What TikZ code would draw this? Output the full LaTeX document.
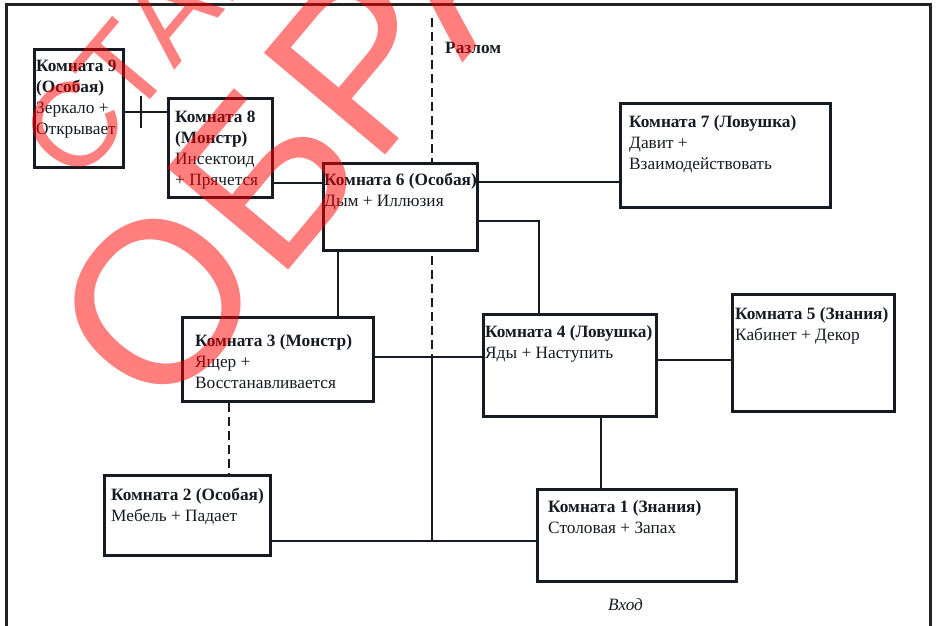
\documentclass[tikz,border=0pt]{standalone}
\usepackage{fontspec}
\setmainfont{Liberation Serif}
\newfontfamily\wmfont{Liberation Sans}
\usetikzlibrary{calc}
\definecolor{ink}{HTML}{161A22}
\definecolor{framec}{HTML}{232323}
\begin{document}
\begin{tikzpicture}[x=1pt,y=-1pt,
  room/.style={draw=ink, line width=2.8pt, fill=white, inner sep=0pt},
  txt/.style={anchor=base west, inner sep=0pt, text=ink, font=\fontsize{17.3}{21}\selectfont},
  link/.style={draw=ink, line width=2.6pt},
  dlink/.style={link, dash pattern=on 9pt off 5pt},
  wm/.style={text=red, text opacity=0.5, inner sep=0pt, anchor=base west, rotate=50},
]
\useasboundingbox (0,0) rectangle (937,626);
% outer frame (open at the bottom)
\coordinate (fa) at (6,626);
\coordinate (fb) at (6,5);
\coordinate (fc) at (930.5,5);
\coordinate (fd) at (930.5,626);
\draw[framec, line width=3pt] (fa) -- (fb) -- (fc) -- (fd);
% fault line
\coordinate (f1) at (432,18);
\coordinate (f2) at (432,357);
\coordinate (f3) at (432,541);
\draw[dlink] (f1) -- (f2);
% rooms
\node[room, minimum width=89.2pt, minimum height=118.2pt] (r9) at (79,108.5) {};
\node[room, minimum width=104.2pt, minimum height=99.2pt] (r8) at (220.5,148) {};
\node[room, minimum width=154.2pt, minimum height=87.2pt] (r6) at (400.5,207) {};
\node[room, minimum width=210.2pt, minimum height=104.2pt] (r7) at (725.5,155.5) {};
\node[room, minimum width=162.2pt, minimum height=117.2pt] (r5) at (813.5,353) {};
\node[room, minimum width=191.2pt, minimum height=84.2pt] (r3) at (278,359.5) {};
\node[room, minimum width=173.2pt, minimum height=102.2pt] (r4) at (570,365.5) {};
\node[room, minimum width=166.2pt, minimum height=80.2pt] (r2) at (187.5,515.5) {};
\node[room, minimum width=199.2pt, minimum height=92.2pt] (r1) at (637,535.5) {};
% routing points
\coordinate (j1) at (141,112);
\coordinate (j2) at (0,183);
\coordinate (j3) at (0,182);
\coordinate (j4) at (539,221);
\coordinate (j5) at (338,0);
\coordinate (j6) at (0,360);
\coordinate (j7) at (601,0);
\coordinate (j8) at (229,0);
% connectors
\draw[link] (r9.east |- j1) -- (r8.west |- j1);
\draw[draw=ink, line width=1.3pt] ($(j1)+(0,-16)$) -- ($(j1)+(0,16)$);
\draw[link] (r8.east |- j2) -- (r6.west |- j2);
\draw[link] (r6.east |- j3) -- (r7.west |- j3);
\draw[link] (r6.east |- j4) -- (j4) -- (r4.north -| j4);
\draw[link] (r6.south -| j5) -- (r3.north -| j5);
\draw[link] (r3.east |- f2) -- (r4.west |- f2);
\draw[link] (f2) -- (f3);
\draw[link] (r4.east |- j6) -- (r5.west |- j6);
\draw[link] (r4.south -| j7) -- (r1.north -| j7);
\draw[link] (r2.east |- f3) -- (r1.west |- f3);
\draw[dlink] (r3.south -| j8) -- (r2.north -| j8);
% texts
\node[txt] (t9) at (36,71) {\begin{tabular}[t]{@{}l@{}}\textbf{Комната 9}\\\textbf{(Особая)}\\Зеркало +\\Открывает\end{tabular}};
\node[txt] (t8) at (175,122) {\begin{tabular}[t]{@{}l@{}}\textbf{Комната 8}\\\textbf{(Монстр)}\\Инсектоид\\+ Прячется\end{tabular}};
\node[txt] (t6) at (324,185) {\begin{tabular}[t]{@{}l@{}}\textbf{Комната 6 (Особая)}\\Дым + Иллюзия\end{tabular}};
\node[txt] (t7) at (629,127) {\begin{tabular}[t]{@{}l@{}}\textbf{Комната 7 (Ловушка)}\\Давит +\\Взаимодействовать\end{tabular}};
\node[txt] (t5) at (735,319) {\begin{tabular}[t]{@{}l@{}}\textbf{Комната 5 (Знания)}\\Кабинет + Декор\end{tabular}};
\node[txt] (t3) at (195,346) {\begin{tabular}[t]{@{}l@{}}\textbf{Комната 3 (Монстр)}\\Ящер +\\Восстанавливается\end{tabular}};
\node[txt] (t4) at (485,337) {\begin{tabular}[t]{@{}l@{}}\textbf{Комната 4 (Ловушка)}\\Яды + Наступить\end{tabular}};
\node[txt] (t2) at (111,500) {\begin{tabular}[t]{@{}l@{}}\textbf{Комната 2 (Особая)}\\Мебель + Падает\end{tabular}};
\node[txt] (t1) at (548,512) {\begin{tabular}[t]{@{}l@{}}\textbf{Комната 1 (Знания)}\\Столовая + Запах\end{tabular}};
\node[txt, font=\fontsize{17.3}{21}\selectfont\bfseries] (tf) at (445,54) {Разлом};
\node[txt, font=\fontsize{17.3}{21}\selectfont\itshape] (te) at (608,610) {Вход};
% watermark
\begin{scope}
\clip (0,0) rectangle (937,626);
\node[wm, font=\wmfont\fontsize{230}{230}\selectfont] (wm1) at (161.7,421.9) {ОБРАЗЕЦ};
\node[wm, font=\wmfont\fontsize{120}{120}\selectfont] (wm2) at (77,187) {СТАНДАРТ};
\end{scope}
\end{tikzpicture}
\end{document}
